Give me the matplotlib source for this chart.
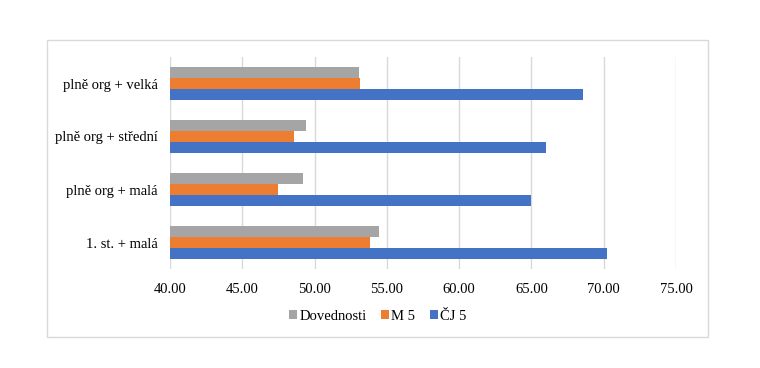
import matplotlib.pyplot as plt
from matplotlib.patches import Rectangle
import numpy as np

categories = ["1. st. + malá", "plně org + malá", "plně org + střední", "plně org + velká"]
dovednosti = [54.46, 49.18, 49.39, 53.08]
m5 = [53.80, 47.44, 48.61, 53.14]
cj5 = [70.21, 64.96, 66.00, 68.60]
xticks = [40, 45, 50, 55, 60, 65, 70, 75]

plt.rcParams['font.family'] = ['Liberation Serif', 'DejaVu Serif']

fig = plt.figure(figsize=(7.6, 3.68), dpi=100)
# light frame around the chart area, like an Office chart
fig.patches.append(Rectangle((47 / 760, 31 / 368), 661 / 760, 297 / 368,
                             transform=fig.transFigure, fill=False,
                             edgecolor='#d9d9d9', linewidth=1))

ax = fig.add_axes([170 / 760, 99 / 368, 506 / 760, 212 / 368])

y = np.arange(len(categories))
h = 0.208
ax.barh(y - h, cj5, height=h, color='#4472C4', label='ČJ 5', zorder=3)
ax.barh(y, m5, height=h, color='#ED7D31', label='M 5', zorder=3)
ax.barh(y + h, dovednosti, height=h, color='#A5A5A5', label='Dovednosti', zorder=3)

ax.set_xlim(40, 75)
ax.set_ylim(-0.5, 3.5)
ax.set_xticks(xticks)
ax.set_xticklabels(["{:.2f}".format(t) for t in xticks], fontsize=10.5)
ax.set_yticks(y)
ax.set_yticklabels(categories, fontsize=10.5)
ax.tick_params(length=0)
ax.tick_params(axis='y', pad=9)
ax.tick_params(axis='x', pad=10)
ax.grid(axis='x', color='#d9d9d9', linewidth=1, zorder=0)
for s in ax.spines.values():
    s.set_visible(False)

handles, labels = ax.get_legend_handles_labels()
fig.legend(handles[::-1], labels[::-1], loc='center', bbox_to_anchor=(378 / 760, 1 - 316 / 368),
           ncol=3, frameon=False, fontsize=10.5, handlelength=0.55, handleheight=0.55,
           handletextpad=0.15, columnspacing=1.0)

fig.savefig('out.png', dpi=100)
